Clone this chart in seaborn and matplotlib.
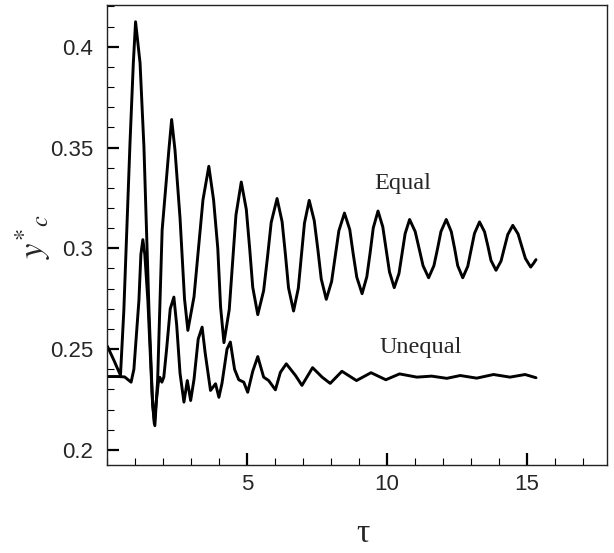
import matplotlib
matplotlib.use("Agg")
import matplotlib.pyplot as plt
import seaborn as sns
import pandas as pd
from matplotlib.ticker import MultipleLocator

# ---- data (tau, y*_c) ----
equal_pts = [
    (0.00, 0.2515), (0.25, 0.244), (0.47, 0.237), (0.59, 0.269), (0.81, 0.352),
    (0.93, 0.392), (1.01, 0.4124), (1.17, 0.392), (1.31, 0.350), (1.49, 0.269),
    (1.62, 0.222), (1.70, 0.212), (1.80, 0.235), (1.96, 0.309), (2.20, 0.3487),
    (2.30, 0.3639), (2.42, 0.3487), (2.60, 0.315), (2.76, 0.275), (2.88, 0.2593),
    (3.10, 0.276), (3.26, 0.300), (3.42, 0.324), (3.63, 0.3407), (3.80, 0.324),
    (3.95, 0.300), (4.05, 0.271), (4.17, 0.2532), (4.36, 0.2696), (4.48, 0.2931),
    (4.60, 0.3165), (4.79, 0.3329), (4.97, 0.3193), (5.09, 0.300), (5.20, 0.2807),
    (5.38, 0.2671), (5.59, 0.279), (5.73, 0.2959), (5.86, 0.3128), (6.07, 0.3247),
    (6.25, 0.3132), (6.37, 0.2968), (6.48, 0.2804), (6.66, 0.2689), (6.83, 0.2802),
    (6.94, 0.2964), (7.05, 0.3125), (7.22, 0.3238), (7.40, 0.3137), (7.53, 0.2993),
    (7.65, 0.2848), (7.83, 0.2747), (8.02, 0.2835), (8.15, 0.2961), (8.28, 0.3087),
    (8.48, 0.3175), (8.67, 0.3093), (8.79, 0.2975), (8.92, 0.2857), (9.11, 0.2775),
    (9.28, 0.2859), (9.40, 0.298), (9.51, 0.3101), (9.68, 0.3185), (9.85, 0.3107),
    (9.97, 0.2995), (10.09, 0.2883), (10.26, 0.2805), (10.43, 0.2875), (10.54, 0.2974),
    (10.65, 0.3073), (10.81, 0.3143), (11.01, 0.3083), (11.15, 0.2999), (11.29, 0.2914),
    (11.49, 0.2854), (11.68, 0.2914), (11.81, 0.2999), (11.93, 0.3083), (12.12, 0.3143),
    (12.30, 0.3083), (12.42, 0.2999), (12.53, 0.2914), (12.71, 0.2854), (12.89, 0.2911),
    (13.01, 0.2993), (13.13, 0.3074), (13.31, 0.3131), (13.49, 0.3082), (13.61, 0.3011),
    (13.72, 0.294), (13.90, 0.2891), (14.08, 0.2937), (14.20, 0.3003), (14.32, 0.3068),
    (14.50, 0.3114), (14.69, 0.3071), (14.82, 0.301), (14.95, 0.295), (15.14, 0.2907),
    (15.24, 0.2925), (15.33, 0.2944),
]

unequal_pts = [
    (0.00, 0.2364), (0.40, 0.2364), (0.62, 0.2362), (0.85, 0.2336), (0.95, 0.240),
    (1.13, 0.2742), (1.20, 0.297), (1.27, 0.3043), (1.34, 0.297), (1.45, 0.274),
    (1.60, 0.228), (1.68, 0.213), (1.75, 0.224), (1.82, 0.233), (1.88, 0.236),
    (1.95, 0.2336), (2.02, 0.2361), (2.12, 0.250), (2.25, 0.270), (2.38, 0.2758),
    (2.48, 0.262), (2.60, 0.238), (2.74, 0.2237), (2.86, 0.2344), (2.98, 0.2245),
    (3.10, 0.235), (3.25, 0.255), (3.39, 0.2609), (3.50, 0.248), (3.69, 0.2295),
    (3.87, 0.2328), (3.99, 0.2261), (4.10, 0.233), (4.28, 0.250), (4.40, 0.2535),
    (4.55, 0.240), (4.70, 0.2348), (4.88, 0.2336), (5.02, 0.2286), (5.20, 0.239),
    (5.38, 0.2463), (5.59, 0.2361), (5.77, 0.2344), (6.01, 0.2298), (6.19, 0.2385),
    (6.40, 0.2427), (6.73, 0.2369), (6.96, 0.232), (7.34, 0.2408), (7.68, 0.2361),
    (7.97, 0.2330), (8.39, 0.239), (8.91, 0.2344), (9.43, 0.2383), (9.96, 0.2348),
    (10.45, 0.2377), (11.07, 0.2361), (11.60, 0.2366), (12.14, 0.2355), (12.62, 0.2369),
    (13.21, 0.2356), (13.81, 0.2374), (14.40, 0.2361), (14.94, 0.2374), (15.33, 0.2358),
]

series_names = ["Equal", "Unequal"]
x_major_ticks = [5, 10, 15]
y_major_ticks = [0.2, 0.25, 0.3, 0.35, 0.4]
y_tick_labels = ["0.2", "0.25", "0.3", "0.35", "0.4"]

rows = [(t, v, "Equal") for t, v in equal_pts] + [(t, v, "Unequal") for t, v in unequal_pts]
df = pd.DataFrame(rows, columns=["tau", "yc", "case"])

sns.set_style("ticks")
plt.rcParams["font.family"] = ["Liberation Sans", "DejaVu Sans"]
plt.rcParams["mathtext.fontset"] = "stix"

fig = plt.figure(figsize=(6.14, 5.53), dpi=100)
ax = fig.add_axes([0.1748, 0.1591, 0.8143, 0.8318])

sns.lineplot(data=df, x="tau", y="yc", hue="case", units="case", estimator=None,
             sort=False, palette={"Equal": "black", "Unequal": "black"},
             linewidth=2.1, legend=False, ax=ax)

ax.set_xlim(0, 17.88)
ax.set_ylim(0.1925, 0.4207)
ax.set_xticks(x_major_ticks)
ax.set_xticklabels([str(t) for t in x_major_ticks])
ax.xaxis.set_minor_locator(MultipleLocator(1))
ax.set_yticks(y_major_ticks)
ax.set_yticklabels(y_tick_labels)
ax.yaxis.set_minor_locator(MultipleLocator(0.01))

ax.tick_params(which="major", direction="in", length=8.6, width=1.6, labelsize=16,
               top=False, right=False, color="black")
ax.tick_params(which="minor", direction="in", length=5, width=0.8,
               top=False, right=False, color="black")
ax.tick_params(axis="y", which="major", pad=10)
ax.tick_params(axis="x", which="major", pad=6.5)

for s in ax.spines.values():
    s.set_linewidth(1.0)
    s.set_color("#222222")

ax.set_xlabel("")
ax.set_ylabel("")
ax.text(0.511, -0.15, "τ", transform=ax.transAxes, ha="center", va="center",
        fontsize=24, family=["Liberation Serif", "DejaVu Serif"])
ax.text(-0.149, 0.498, r"$y^{*}{}_{c}$", transform=ax.transAxes, ha="center",
        va="center", rotation=90, fontsize=25)

ax.text(10.56, 0.3292, series_names[0], ha="center", va="baseline", fontsize=17.5,
        family=["Liberation Serif", "DejaVu Serif"])
ax.text(11.22, 0.248, series_names[1], ha="center", va="baseline", fontsize=17.5,
        family=["Liberation Serif", "DejaVu Serif"])

fig.savefig("out.png", dpi=100, facecolor="white")
